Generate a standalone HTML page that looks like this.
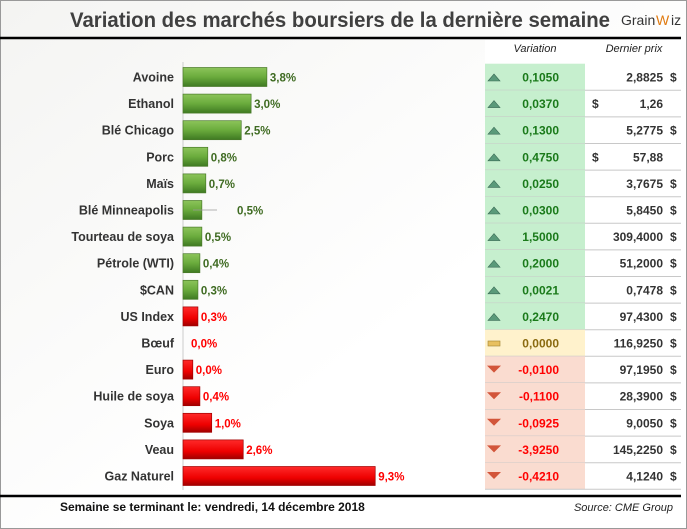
<!DOCTYPE html>
<html><head><meta charset="utf-8"><style>
body{margin:0;background:#fff;}
svg{display:block;font-family:"Liberation Sans",sans-serif;}
</style></head><body>
<svg id="c" width="687" height="529" viewBox="0 0 687 529" xmlns="http://www.w3.org/2000/svg">
<defs>
<linearGradient id="bg" x1="0" y1="0" x2="1" y2="1"><stop offset="0" stop-color="#f4f4f2"/><stop offset="0.6" stop-color="#ffffff"/></linearGradient>
<linearGradient id="gG" x1="0" y1="0" x2="0" y2="1"><stop offset="0" stop-color="#8cc45a"/><stop offset="0.5" stop-color="#6aab3c"/><stop offset="1" stop-color="#3f7a22"/></linearGradient>
<linearGradient id="gR" x1="0" y1="0" x2="0" y2="1"><stop offset="0" stop-color="#ff2a2a"/><stop offset="0.6" stop-color="#ee0000"/><stop offset="1" stop-color="#a00000"/></linearGradient>
</defs>
<rect x="0.5" y="0.5" width="686" height="528" fill="url(#bg)" stroke="#999"/>
<rect x="485" y="40" width="196" height="455" fill="#fff"/>
<text x="340" y="27" text-anchor="middle" font-size="21" font-weight="bold" fill="#404040" textLength="540" lengthAdjust="spacingAndGlyphs">Variation des marchés boursiers de la dernière semaine</text>
<g><text x="621" y="25" font-size="14" fill="#333">Grain</text><text x="656" y="25" font-size="14" fill="#e07a10">W</text><text x="671" y="25" font-size="14" fill="#333">iz</text></g>
<line x1="0" y1="38" x2="681" y2="38" stroke="#000" stroke-width="2.5"/>
<text x="535" y="52" text-anchor="middle" font-size="11" font-style="italic" fill="#222">Variation</text>
<text x="634" y="52" text-anchor="middle" font-size="11" font-style="italic" fill="#222">Dernier prix</text>
<line x1="183" y1="62" x2="183" y2="490" stroke="#ccc" stroke-width="1"/>
<g id="rows"></g>
<line x1="0" y1="496" x2="681" y2="496" stroke="#000" stroke-width="2.5"/>
<text x="60" y="511" font-size="12" font-weight="bold" fill="#111">Semaine se terminant le:  vendredi, 14 décembre 2018</text>
<text x="673" y="511" text-anchor="end" font-size="11" font-style="italic" fill="#222">Source: CME Group</text>
</svg>
<script>
const categories=["Avoine","Ethanol","Blé Chicago","Porc","Maïs","Blé Minneapolis","Tourteau de soya","Pétrole (WTI)","$CAN","US Index","Bœuf","Euro","Huile de soya","Soya","Veau","Gaz Naturel"];
const pctValues=[3.8,3.0,2.5,0.8,0.7,0.5,0.5,0.4,0.3,0.3,0.0,0.04,0.4,1.0,2.6,9.3];
const pctLabels=["3,8%","3,0%","2,5%","0,8%","0,7%","0,5%","0,5%","0,4%","0,3%","0,3%","0,0%","0,0%","0,4%","1,0%","2,6%","9,3%"];
const barSign=[1,1,1,1,1,1,1,1,1,-1,-1,-1,-1,-1,-1,-1];
const tableDir=[1,1,1,1,1,1,1,1,1,1,0,-1,-1,-1,-1,-1];
const variations=["0,1050","0,0370","0,1300","0,4750","0,0250","0,0300","1,5000","0,2000","0,0021","0,2470","0,0000","-0,0100","-0,1100","-0,0925","-3,9250","-0,4210"];
const prices=["2,8825","1,26","5,2775","57,88","3,7675","5,8450","309,4000","51,2000","0,7478","97,4300","116,9250","97,1950","28,3900","9,0050","145,2250","4,1240"];
const ns="http://www.w3.org/2000/svg";
const g=document.getElementById("rows");
const x0=183, rowTop=63.7, pitch=26.6;
function xScale(v){return v>0?9+19.7*v:0;}
function rowY(i){return rowTop+i*pitch;}
function mk(t,a){const e=document.createElementNS(ns,t);for(const k in a)e.setAttribute(k,a[k]);g.appendChild(e);return e;}
categories.forEach((c,i)=>{
  const y=rowY(i), cy=y+pitch/2, d=tableDir[i], s=barSign[i];
  const bgc=d>0?"#c6efce":d<0?"#fadcd0":"#fff2cc";
  const cell=mk("rect",{x:485,y:y,width:100,height:pitch,fill:bgc});
  
  
  const sep=mk("line",{x1:485,y1:y+pitch,x2:681,y2:y+pitch,stroke:"#c8c8c8"});
  
  
  const lab=mk("text",{x:174,y:cy+4.5,"text-anchor":"end","font-size":"12.5","font-weight":"bold",fill:"#333"});
  lab.textContent=c;
  
  
  const w=xScale(pctValues[i]);
  const col=s>0?"#3f6b22":"#ff0000";
  if(w>0){
    const b=mk("rect",{x:x0,y:cy-9.5,width:w,height:19,fill:s>0?"url(#gG)":"url(#gR)",stroke:s>0?"#4a7a2a":"#a00000","stroke-width":"0.7"});
    
    
  }
  let lx=x0+w+3;
  if(c==="Blé Minneapolis"){
    const ll=mk("line",{x1:x0+10,y1:cy,x2:x0+34,y2:cy,stroke:"#999","stroke-width":"0.8"});
    
    
    lx=x0+54;
  }
  if(w===0) lx=x0+8;
  const vl=mk("text",{x:lx,y:cy+4.5,"font-size":"11.5","font-weight":"bold",fill:col});
  vl.textContent=pctLabels[i];
  
  
  let ic;
  if(d>0) ic=mk("polygon",{points:`${488},${cy+4} ${500},${cy+4} ${494},${cy-3}`,fill:"#5a9a7a",stroke:"#3a6a55","stroke-width":"0.6"});
  else if(d<0) ic=mk("polygon",{points:`${487},${cy-4} ${501},${cy-4} ${494},${cy+3}`,fill:"#d2553a"});
  else ic=mk("rect",{x:488,y:cy-2,width:12,height:5,fill:"#e8c060",stroke:"#a08030","stroke-width":"0.6"});
  
  
  const vt=mk("text",{x:559,y:cy+4.5,"text-anchor":"end","font-size":"12","font-weight":"bold",fill:d>0?"#1a7a1a":d<0?"#ff0000":"#8a6a10"});
  vt.textContent=variations[i];
  
  
  const pt=mk("text",{x:663,y:cy+4.5,"text-anchor":"end","font-size":"12","font-weight":"bold",fill:"#333"});
  pt.textContent=prices[i];
  
  
  const ds=mk("text",{x:(c==="Ethanol"||c==="Porc")?592:670,y:cy+4.5,"font-size":"12","font-weight":"bold",fill:"#333"});
  ds.textContent="$";
  
  
});
</script>
</body></html>
